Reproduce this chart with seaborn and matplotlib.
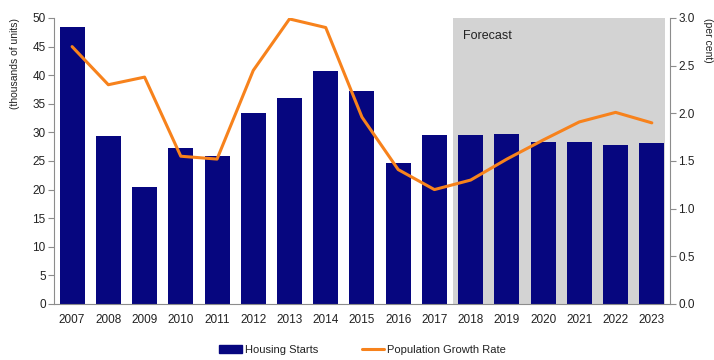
import matplotlib
matplotlib.use("Agg")
import matplotlib.pyplot as plt
from matplotlib.patches import Patch
from matplotlib.lines import Line2D
import numpy as np
import pandas as pd
import seaborn as sns

years = ["2007", "2008", "2009", "2010", "2011", "2012", "2013", "2014", "2015",
         "2016", "2017", "2018", "2019", "2020", "2021", "2022", "2023"]
housing_starts = [48.4, 29.3, 20.5, 27.2, 25.8, 33.4, 36.1, 40.7, 37.3,
                  24.6, 29.5, 29.5, 29.7, 28.4, 28.4, 27.8, 28.1]
population_growth = [2.70, 2.30, 2.38, 1.55, 1.52, 2.45, 2.99, 2.90, 1.96,
                     1.41, 1.20, 1.30, 1.52, 1.72, 1.91, 2.01, 1.90]
left_ticks = [0, 5, 10, 15, 20, 25, 30, 35, 40, 45, 50]
right_ticks = [0.0, 0.5, 1.0, 1.5, 2.0, 2.5, 3.0]
forecast_start = "2018"

df = pd.DataFrame({"year": years, "starts": housing_starts, "growth": population_growth})

sns.set_theme(style="white")
plt.rcParams["font.family"] = ["Liberation Sans", "DejaVu Sans"]

bar_color = "#06067f"
line_color = "#f7821c"
spine_color = "#8c8c8c"
text_color = "#222222"

fig = plt.figure(figsize=(7.14, 3.6), dpi=100)
ax = fig.add_axes([0.0756, 0.1556, 0.8627, 0.7944])

sns.barplot(data=df, x="year", y="starts", color=bar_color, width=0.69,
            saturation=1, linewidth=0, edgecolor=bar_color, ax=ax, zorder=2)

# shaded forecast period
fc = years.index(forecast_start)
ax.axvspan(fc - 0.5, len(years) - 1 + 0.35, ymin=0, ymax=1,
           color="#d3d3d3", zorder=0, lw=0)
ax.text(fc - 0.22, 46.9, "Forecast", fontsize=9, color=text_color,
        ha="left", va="center")

ax.set_xlim(-0.5, len(years) - 0.5)
ax.set_ylim(0, 50)
ax.set_yticks(left_ticks)
ax.set_xlabel("")
ax.set_ylabel("(thousands of units)", fontsize=7.5, color=text_color,
              rotation=90, rotation_mode="anchor", ha="right", va="center")
ax.yaxis.set_label_coords(-0.063, 1.0)

ax2 = ax.twinx()
sns.lineplot(x=np.arange(len(years)), y=population_growth, color=line_color,
             linewidth=2.2, ax=ax2)
ax2.set_ylim(0, 3)
ax2.set_yticks(right_ticks)
ax2.set_yticklabels([f"{v:.1f}" for v in right_ticks])
ax2.set_ylabel("(per cent)", fontsize=7.5, color=text_color, rotation=-90,
               rotation_mode="anchor", ha="left", va="center")
ax2.yaxis.set_label_coords(1.062, 1.0)
ax2.set_xlim(-0.5, len(years) - 0.5)

for a in (ax, ax2):
    a.spines["top"].set_visible(False)
    for s in ("left", "right", "bottom"):
        a.spines[s].set_color(spine_color)
        a.spines[s].set_linewidth(0.8)
    a.tick_params(axis="both", which="major", length=4, width=0.8,
                  color=spine_color, labelsize=8.5, labelcolor=text_color,
                  direction="out")
ax.spines["right"].set_visible(False)
ax2.spines["left"].set_visible(False)
ax2.spines["bottom"].set_visible(False)
ax.tick_params(axis="x", pad=3)
ax.tick_params(axis="y", pad=2)
ax2.tick_params(axis="y", pad=2)

handles = [Patch(facecolor=bar_color, edgecolor=bar_color, label="Housing Starts"),
           Line2D([0], [0], color=line_color, lw=2.2, label="Population Growth Rate")]
fig.legend(handles=handles, loc="center", bbox_to_anchor=(0.508, 0.028), ncol=2,
           frameon=False, fontsize=8, columnspacing=3.9, handlelength=2.0,
           handletextpad=0.3, labelcolor=text_color)

fig.savefig("out.png", dpi=100)
